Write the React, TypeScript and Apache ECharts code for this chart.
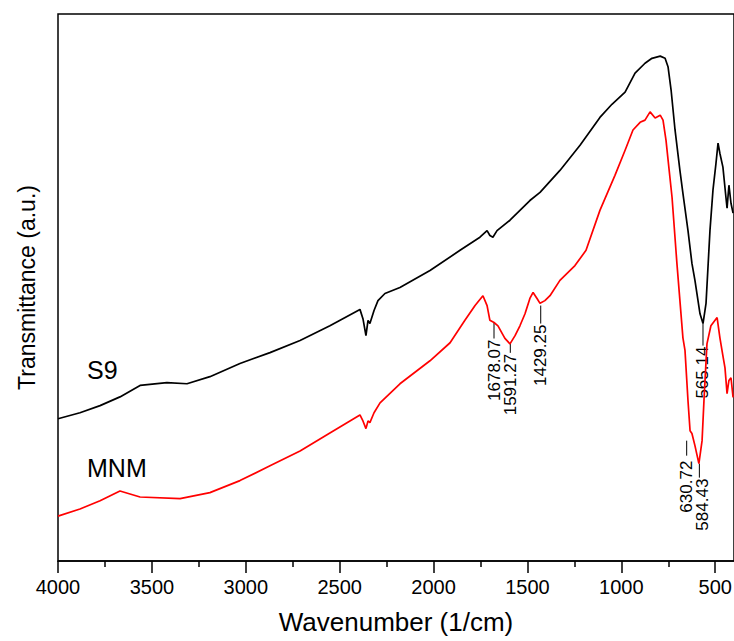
import React, { useEffect, useRef } from "react";
import * as echarts from "echarts";

// S9 spectrum (black): [wavenumber, transmittance a.u.]
const s9Wavenumber = [4000, 3883, 3776, 3670, 3563, 3420, 3313, 3191, 3031, 2871, 2711, 2552, 2392, 2376, 2360, 2349, 2339, 2317, 2296, 2259, 2179, 2019, 1859, 1753, 1715, 1700, 1684, 1662, 1593, 1487, 1433, 1327, 1220, 1114, 1050, 980, 927, 874, 837, 793, 767, 751, 735, 714, 688, 672, 645, 624, 608, 581, 565, 549, 528, 512, 496, 485, 475, 459, 443, 437, 427, 416, 405];
const s9Values = [26.0, 27.1, 28.4, 30.0, 32.1, 32.6, 32.4, 33.7, 36.1, 38.1, 40.3, 43.0, 46.0, 44.3, 41.2, 44.0, 43.4, 45.8, 47.6, 48.9, 50.0, 53.1, 56.8, 59.2, 60.4, 59.5, 59.2, 60.4, 62.3, 65.9, 67.4, 71.4, 76.0, 81.1, 83.5, 85.7, 89.2, 91.0, 91.9, 92.3, 91.9, 90.3, 86.1, 78.8, 71.4, 67.2, 60.4, 54.4, 51.3, 45.2, 43.4, 47.1, 60.4, 67.8, 72.7, 76.4, 74.5, 72.0, 66.5, 64.5, 68.7, 65.4, 63.6];

// MNM spectrum (red)
const mnmWavenumber = [4000, 3883, 3776, 3670, 3563, 3350, 3191, 3031, 2871, 2711, 2552, 2392, 2376, 2360, 2349, 2339, 2317, 2285, 2179, 2019, 1912, 1833, 1779, 1737, 1715, 1700, 1678, 1657, 1620, 1593, 1566, 1540, 1513, 1487, 1470, 1449, 1433, 1407, 1380, 1327, 1247, 1188, 1114, 1034, 980, 938, 900, 874, 847, 820, 793, 778, 762, 751, 730, 704, 688, 672, 661, 645, 634, 624, 608, 587, 570, 560, 544, 523, 490, 475, 459, 448, 437, 427, 416, 405];
const mnmValues = [8.2, 9.5, 11.0, 12.8, 11.7, 11.4, 12.5, 14.7, 17.4, 20.1, 23.4, 26.7, 25.6, 24.2, 25.6, 25.3, 27.1, 28.9, 32.4, 36.6, 39.9, 44.0, 46.7, 48.5, 46.7, 44.0, 43.6, 43.0, 40.7, 39.7, 41.2, 43.0, 45.2, 48.0, 49.1, 48.0, 47.1, 47.6, 48.5, 51.3, 54.0, 56.8, 64.1, 70.5, 75.1, 78.8, 80.2, 80.6, 82.1, 81.0, 81.5, 80.6, 76.9, 73.3, 66.5, 54.4, 47.6, 40.8, 38.5, 29.3, 23.8, 23.3, 21.1, 17.8, 22.0, 29.3, 39.7, 43.0, 44.5, 40.8, 37.5, 35.3, 30.6, 33.0, 33.5, 29.9];

// Peak annotations
const annoWavenumber = [1678.07, 1591.27, 1429.25, 565.14, 630.72, 584.43];
const annoLabels = ["1678.07", "1591.27", "1429.25", "565.14", "630.72", "584.43"];
const annoValues = [43.6, 39.7, 46.7, 43.4, 22.0, 17.8];

// axis ticks
const majorTicks = [500, 1000, 1500, 2000, 2500, 3000, 3500, 4000];
const minorTicks = [750, 1250, 1750, 2250, 2750, 3250, 3750];

const FONT = "'Liberation Sans', Arial, sans-serif";

// styling for annotation leaders: [line length px, line dx, text dx, gap]
const annoStyle = [
  [16, 0, 0, 1],
  [9, 0, 0, 1],
  [18, 0, 0, 1],
  [22, 0, 0, 1],
  [15, -4, -4, 5],
  [14, 0, 3, 1],
];

export default function App() {
  const ref = useRef<HTMLDivElement>(null);

  useEffect(() => {
    if (!ref.current) return;
    const chart = echarts.init(ref.current, undefined, { renderer: "svg" });
    const s9Data = s9Wavenumber.map((w, i) => [w, s9Values[i]]);
    const mnmData = mnmWavenumber.map((w, i) => [w, mnmValues[i]]);
    const annoData = annoWavenumber.map((w, i) => [w, annoValues[i], i]);

    chart.setOption({
      animation: false,
      backgroundColor: "#fff",
      grid: {
        left: 58,
        top: 14,
        right: 0,
        bottom: 80,
        containLabel: false,
        outerBoundsMode: "none",
        show: true,
        borderColor: "#000",
        borderWidth: 1.5,
        backgroundColor: "transparent",
      },
      xAxis: [
        {
          type: "value",
          inverse: true,
          min: 400,
          max: 4000,
          name: "Wavenumber (1/cm)",
          nameLocation: "middle",
          nameGap: 48,
          nameTextStyle: { fontFamily: FONT, fontSize: 26, color: "#000" },
          axisLine: { show: true, onZero: false, lineStyle: { color: "#000", width: 1.5 } },
          axisTick: { show: true, customValues: majorTicks, length: 12, inside: false, lineStyle: { color: "#000", width: 1.5 } },
          axisLabel: {
            show: true,
            customValues: majorTicks,
            margin: 16,
            fontFamily: FONT,
            fontSize: 20,
            color: "#000",
            formatter: (v: number) => String(v),
          },
          splitLine: { show: false },
        },
        {
          type: "value",
          inverse: true,
          min: 400,
          max: 4000,
          position: "bottom",
          axisLine: { show: false },
          axisTick: { show: true, customValues: minorTicks, length: 6, inside: false, lineStyle: { color: "#000", width: 1.5 } },
          axisLabel: { show: false },
          splitLine: { show: false },
        },
      ],
      yAxis: {
        type: "value",
        min: 0,
        max: 100,
        name: "Transmittance (a.u.)",
        nameLocation: "middle",
        nameGap: 20,
        nameTextStyle: { fontFamily: FONT, fontSize: 23, color: "#000" },
        axisLine: { show: false },
        axisTick: { show: false },
        axisLabel: { show: false },
        splitLine: { show: false },
      },
      graphic: [
        { type: "text", left: 87, top: 357, style: { text: "S9", font: `25px ${FONT}`, fill: "#000" } },
        { type: "text", left: 87, top: 455, style: { text: "MNM", font: `25px ${FONT}`, fill: "#000" } },
      ],
      series: [
        {
          type: "line",
          name: "S9",
          data: s9Data,
          showSymbol: false,
          symbol: "none",
          lineStyle: { color: "#000", width: 1.7 },
          clip: true,
        },
        {
          type: "line",
          name: "MNM",
          data: mnmData,
          showSymbol: false,
          symbol: "none",
          lineStyle: { color: "#ff0000", width: 1.7 },
          clip: true,
        },
        {
          type: "custom",
          name: "annotations",
          data: annoData,
          renderItem: (params: any, api: any) => {
            const idx = api.value(2);
            const p = api.coord([api.value(0), api.value(1)]);
            const [len, ldx, tdx, gap] = annoStyle[idx];
            const x = p[0] + ldx;
            return {
              type: "group",
              children: [
                {
                  type: "line",
                  shape: { x1: x, y1: p[1], x2: x, y2: p[1] + len },
                  style: { stroke: "#000", lineWidth: 1 },
                },
                {
                  type: "text",
                  x: p[0] + tdx,
                  y: p[1] + len + gap,
                  rotation: Math.PI / 2,
                  style: {
                    text: annoLabels[idx],
                    font: `17px ${FONT}`,
                    fill: "#000",
                    align: "right",
                    verticalAlign: "middle",
                  },
                },
              ],
            };
          },
        },
      ],
    });
    return () => chart.dispose();
  }, []);

  return (
    <div
      ref={ref}
      style={{ position: "fixed", left: 0, top: 0, width: 734, height: 641, background: "#fff" }}
    />
  );
}
